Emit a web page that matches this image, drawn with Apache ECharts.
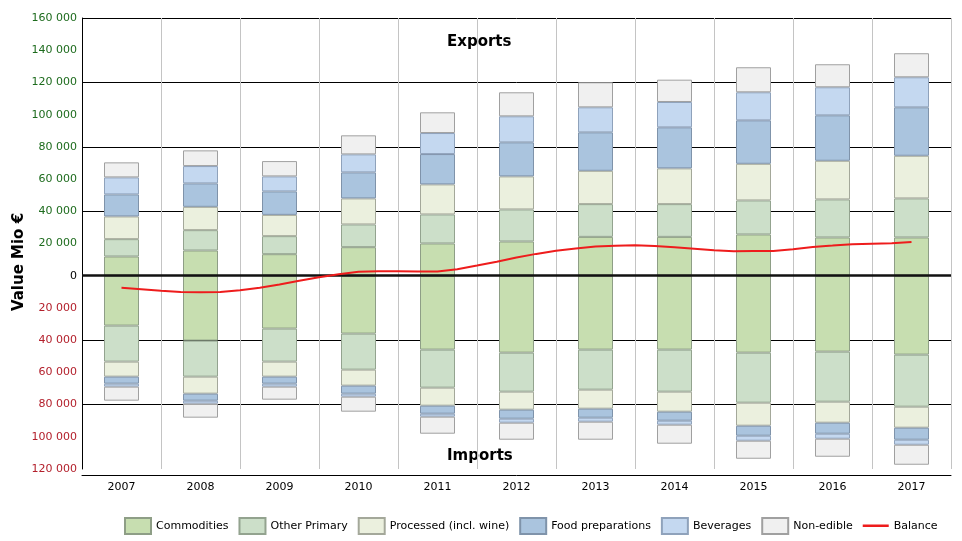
<!DOCTYPE html>
<html>
<head>
<meta charset="utf-8">
<script src="https://cdn.jsdelivr.net/npm/echarts@6/dist/echarts.min.js"></script>
<style>html,body{margin:0;padding:0;background:#fff}#c{width:962px;height:541px}</style>
</head>
<body>
<div id="c"></div>
<script>
var years = ['2007','2008','2009','2010','2011','2012','2013','2014','2015','2016','2017'];
var groups = ['Commodities','Other Primary','Processed (incl. wine)','Food preparations','Beverages','Non-edible'];

// Exports (Mio €)
var expCommodities = [11930,15660,13360,17720,20020,21260,24120,24120,25610,23750,23750];
var expOtherPrimary = [10760,12620,11190,14110,18020,19890,20320,20320,21130,23620,24240];
var expProcessed = [14110,14490,13240,16160,18650,20510,20700,22200,22750,23990,26480];
var expFoodPrep = [13670,14540,14550,16160,18830,21140,23870,25480,26980,28220,30080];
var expBeverages = [10570,10760,9320,11190,13060,16160,15540,15730,17410,17410,18650];
var expNonEdible = [9330,9750,9510,11810,12860,14920,15540,13860,15540,14290,14920];

// Imports (Mio €, shown below zero)
var impCommodities = [30960,40280,32820,35930,45870,47740,45870,45870,47740,47120,48980];
var impOtherPrimary = [22370,22380,20510,22380,23620,24240,24870,26110,31080,31080,32330];
var impProcessed = [9330,10560,9330,9940,11200,11190,11810,12430,14290,13050,13050];
var impFoodPrep = [4350,4350,4350,4970,4970,5590,5590,5600,6220,6840,7460];
var impBeverages = [1860,1870,1860,1870,1860,2490,2490,2480,3110,3110,3110];
var impNonEdible = [8700,8700,8080,9320,10570,10570,11190,11810,11190,11190,12430];

// Balance
var balancePeriods = [2007,2007.25,2007.5,2007.75,2008,2008.25,2008.5,2008.75,2009,2009.25,2009.5,2009.75,2010,2010.25,2010.5,2010.75,2011,2011.25,2011.5,2011.75,2012,2012.25,2012.5,2012.75,2013,2013.25,2013.5,2013.75,2014,2014.25,2014.5,2014.75,2015,2015.25,2015.5,2015.75,2016,2016.25,2016.5,2016.75,2017];
var balanceValues = [-7500,-8390,-9320,-10070,-10260,-10070,-9010,-7460,-5500,-3110,-930,930,2500,2800,2800,2600,2600,4040,6340,8700,11300,13550,15540,16910,18100,18650,18960,18460,17700,16780,15850,15230,15300,15350,16470,17840,18700,19580,19890,20200,21000];

var yTicks = [-120000,160000,20000];

var colors = ['#c7deb0','#ccdfc9','#ebf0de','#aac4de','#c4d8f0','#f0f0f0'];
var borders = ['#8e9e86','#93a38f','#a4a89a','#7f93aa','#8fa2bb','#a0a0a0'];
var expData = [expCommodities,expOtherPrimary,expProcessed,expFoodPrep,expBeverages,expNonEdible];
var impData = [impCommodities,impOtherPrimary,impProcessed,impFoodPrep,impBeverages,impNonEdible];

var FONT = 'DejaVu Sans';
function fmt(v){
  var s = String(Math.abs(v));
  return s.replace(/\B(?=(\d{3})+(?!\d))/g, ' ');
}

var series = [];
groups.forEach(function(g,i){
  series.push({
    name: g, type: 'bar', stack: 'all', barWidth: 35,
    itemStyle: {color: colors[i], borderColor: borders[i], borderWidth: 1},
    data: expData[i]
  });
});
groups.forEach(function(g,i){
  series.push({
    name: g, type: 'bar', stack: 'all', barWidth: 35,
    itemStyle: {color: colors[i], borderColor: borders[i], borderWidth: 1},
    data: impData[i].map(function(v){return -v;})
  });
});
series.push({
  name: 'Balance', type: 'line', xAxisIndex: 1, yAxisIndex: 0,
  showSymbol: false, symbol: 'none', z: 6,
  lineStyle: {color: '#ee1c1c', width: 2},
  itemStyle: {color: '#ee1c1c'},
  data: balancePeriods.map(function(p,i){return [p, balanceValues[i]];}),
  markLine: {
    silent: true, symbol: 'none', z: 5,
    label: {show: false},
    lineStyle: {color: '#111', width: 2.5, type: 'solid'},
    data: [{yAxis: 0}]
  }
});

var legendData = groups.map(function(g){ return {name: g, icon: 'rect'}; });
legendData.push({name: 'Balance', icon: 'path://M0,0L0.01,0L0.01,0.01ZM0,6.5L26,6.5L26,9L0,9ZM0,16L0.01,16L0.01,15.99Z'});

var chart = echarts.init(document.getElementById('c'), null, {renderer: 'canvas'});
chart.setOption({
  animation: false,
  backgroundColor: '#fff',
  grid: {left: 82, right: 11, top: 18, bottom: 72},
  xAxis: [{
    type: 'category', data: years, offset: 6,
    axisLine: {show: true, onZero: false, lineStyle: {color: '#000', width: 1}},
    axisTick: {show: false},
    axisLabel: {color: '#000', fontFamily: FONT, fontSize: 11, margin: 7},
    splitLine: {show: true, lineStyle: {color: '#c4c4c4', width: 1}}
  },{
    type: 'value', min: 2006.5, max: 2017.5, show: false
  }],
  yAxis: [{
    type: 'value', min: yTicks[0], max: yTicks[1], interval: yTicks[2],
    axisLine: {show: true, onZero: false, lineStyle: {color: '#000', width: 1}},
    axisTick: {show: false},
    splitLine: {show: false},
    axisLabel: {
      fontFamily: FONT, fontSize: 11, margin: 5,
      formatter: function(v){return fmt(v);},
      color: function(v){ v = Number(v); return v > 0 ? '#1d6b1d' : (v < 0 ? '#b3202c' : '#000'); }
    }
  },{
    type: 'value', min: -120000, max: 160000, interval: 40000,
    axisLine: {show: false}, axisTick: {show: false}, axisLabel: {show: false},
    splitLine: {show: true, showMinLine: false, lineStyle: {color: '#000', width: 1}}
  }],
  legend: {
    top: 512, left: 119,
    itemWidth: 26, itemHeight: 16, itemGap: 10,
    textStyle: {fontFamily: FONT, fontSize: 11, color: '#000'},
    data: legendData
  },
  graphic: [
    {type: 'text', left: 447, top: 35, style: {text: 'Exports', font: 'bold 15px "DejaVu Sans"', fill: '#000'}},
    {type: 'text', left: 447, top: 449, style: {text: 'Imports', font: 'bold 15px "DejaVu Sans"', fill: '#000'}},
    {type: 'text', x: 19, y: 262, rotation: Math.PI/2, style: {text: 'Value Mio €', font: 'bold 15px "DejaVu Sans"', fill: '#000', align: 'center', verticalAlign: 'middle'}}
  ],
  series: series
});
</script>
</body>
</html>
